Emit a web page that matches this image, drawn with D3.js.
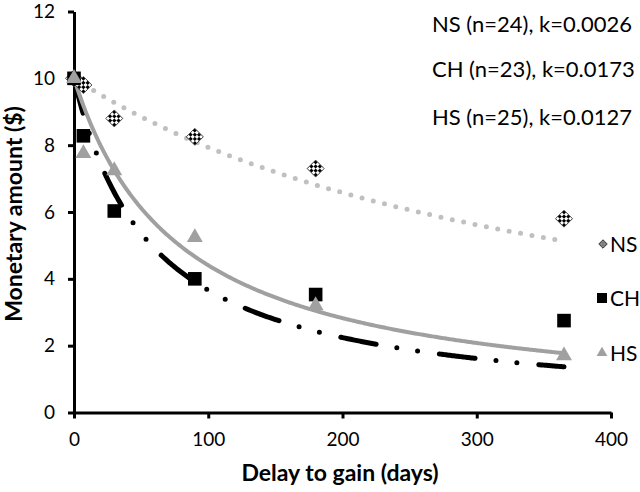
<!DOCTYPE html>
<html>
<head>
<meta charset="utf-8">
<script src="https://cdn.jsdelivr.net/npm/d3@7"></script>
<style>
  html, body { margin: 0; padding: 0; background: #fff; }
  svg { display: block; }
  text { font-family: Lato, "Open Sans", sans-serif; fill: #000; }
</style>
</head>
<body>
<svg id="chart" width="640" height="492"></svg>
<script>
// ---- data ----
const days = [0, 7, 30, 90, 180, 365];
const nsValues = [10, 9.8, 8.8, 8.25, 7.3, 5.8];
const chValues = [10, 8.28, 6.03, 4.0, 3.53, 2.75];
const hsValues = [10, 7.75, 7.24, 5.24, 3.2, 1.7];
const groupNames = ["NS", "CH", "HS"];
const groupN = [24, 23, 25];
const kValues = [0.0026, 0.0173, 0.0127];
const xTicks = [0, 100, 200, 300, 400];
const yTicks = [0, 2, 4, 6, 8, 10, 12];
const curveDays = d3.range(0, 366, 1); // evaluation grid for hyperbolic fit V = 10/(1+kD)

const svg = d3.select("#chart");
const x = d3.scaleLinear().domain([0, 400]).range([74, 611]);
const y = d3.scaleLinear().domain([0, 12]).range([412.5, 11.5]);

// patterns for checkered diamond
const defs = svg.append("defs");
function checker(id, s) {
  const p = defs.append("pattern").attr("id", id).attr("patternUnits", "userSpaceOnUse")
    .attr("width", 2 * s).attr("height", 2 * s);
  p.append("rect").attr("width", 2 * s).attr("height", 2 * s).attr("fill", "#fff");
  p.append("rect").attr("width", s).attr("height", s).attr("fill", "#000");
  p.append("rect").attr("x", s).attr("y", s).attr("width", s).attr("height", s).attr("fill", "#000");
}
checker("chk", 3);
checker("chkS", 1.5);

// axes
const yAxis = d3.axisLeft(y).tickValues(yTicks).tickSize(6).tickSizeOuter(0).tickPadding(13);
const xAxis = d3.axisBottom(x).tickValues(xTicks).tickSize(6).tickSizeOuter(0).tickPadding(14);
const gy = svg.append("g").attr("transform", `translate(${x(0)},0)`).call(yAxis);
const gx = svg.append("g").attr("transform", `translate(0,${y(0)})`).call(xAxis);
[gx, gy].forEach(g => {
  g.select(".domain").attr("stroke", "#000").attr("stroke-width", 3);
  g.selectAll(".tick line").attr("stroke", "#000").attr("stroke-width", 3);
  g.selectAll(".tick text").attr("font-family", "Lato, 'Open Sans', sans-serif")
    .attr("font-size", 19).attr("fill", "#111");
});

// fitted curves
const line = d3.line().x(d => x(d[0])).y(d => y(d[1]));
function fit(k) { return curveDays.map(D => [D, 10 / (1 + k * D)]); }
svg.append("path").datum(fit(kValues[0])).attr("d", line).attr("fill", "none")
  .attr("stroke", "#c0c0c0").attr("stroke-width", 5).attr("stroke-linecap", "round")
  .attr("stroke-dasharray", "0 11.6");
svg.append("path").datum(fit(kValues[1])).attr("d", line).attr("fill", "none")
  .attr("stroke", "#000").attr("stroke-width", 5).attr("stroke-linecap", "round")
  .attr("stroke-dasharray", "36 21 0 21 0 22");
svg.append("path").datum(fit(kValues[2])).attr("d", line).attr("fill", "none")
  .attr("stroke", "#a0a0a0").attr("stroke-width", 4);

// markers
const dsym = 12;
svg.append("g").selectAll("rect").data(days.map((d, i) => [d, nsValues[i]])).join("rect")
  .attr("x", -dsym / 2).attr("y", -dsym / 2).attr("width", dsym).attr("height", dsym)
  .attr("fill", "url(#chk)").attr("stroke", "#333").attr("stroke-width", 0.8)
  .attr("transform", d => `translate(${x(d[0])},${y(d[1])}) rotate(45)`);
svg.append("g").selectAll("rect").data(days.map((d, i) => [d, chValues[i]])).join("rect")
  .attr("x", d => x(d[0]) - 6.8).attr("y", d => y(d[1]) - 6.8).attr("width", 13.6).attr("height", 13.6)
  .attr("fill", "#000");
const tri = d3.symbol().type(d3.symbolTriangle).size(110);
svg.append("g").selectAll("path").data(days.map((d, i) => [d, hsValues[i]])).join("path")
  .attr("d", tri).attr("fill", "#a0a0a0")
  .attr("transform", d => `translate(${x(d[0])},${y(d[1])})`);

// legend
const legY = [244, 298, 353];
const lg = svg.append("g");
lg.append("rect").attr("x", -3).attr("y", -3).attr("width", 6).attr("height", 6)
  .attr("fill", "url(#chkS)").attr("stroke", "#222").attr("stroke-width", 0.8)
  .attr("transform", `translate(603,${legY[0]}) rotate(45)`);
lg.append("rect").attr("x", 597).attr("y", legY[1] - 5).attr("width", 10).attr("height", 10).attr("fill", "#000");
lg.append("path").attr("d", d3.symbol().type(d3.symbolTriangle).size(50)).attr("fill", "#a0a0a0")
  .attr("transform", `translate(602,${legY[2]})`);
lg.selectAll("text").data(groupNames).join("text")
  .attr("x", 610).attr("y", (d, i) => legY[i]).attr("dy", "0.36em")
  .attr("font-size", 21).text(d => d);

// annotations
const annY = [32, 77, 125];
svg.append("g").selectAll("text").data(groupNames).join("text")
  .attr("x", 432).attr("y", (d, i) => annY[i]).attr("font-size", 22)
  .text((d, i) => `${d} (n=${groupN[i]}), k=${kValues[i].toFixed(4)}`);

// axis titles
svg.append("text").attr("x", 340).attr("y", 481).attr("text-anchor", "middle")
  .attr("font-size", 23).attr("font-weight", "bold").text("Delay to gain (days)");
svg.append("text").attr("transform", "translate(22,214) rotate(-90)").attr("text-anchor", "middle")
  .attr("font-size", 23).attr("font-weight", "bold").text("Monetary amount ($)");
</script>
</body>
</html>
